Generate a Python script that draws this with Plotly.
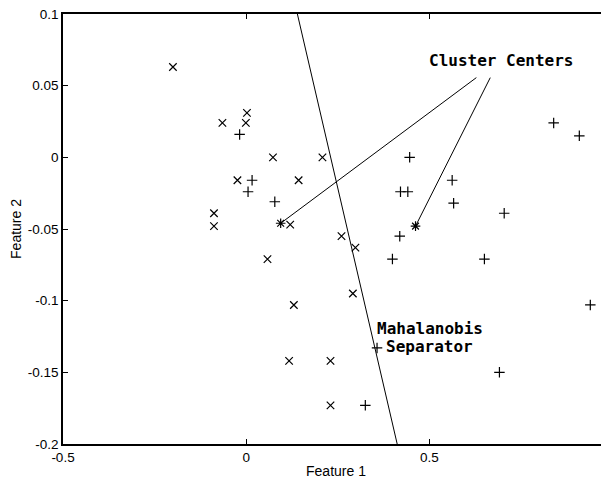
import plotly.graph_objects as go

# Class 1 ("x" markers)
x_cls1 = [-0.200, -0.065, 0.002, -0.001, 0.073, -0.024, 0.143, -0.088, -0.088, 0.120,
          0.208, 0.260, 0.298, 0.058, 0.130, 0.291, 0.117, 0.230, 0.230]
y_cls1 = [0.063, 0.024, 0.031, 0.024, 0.000, -0.016, -0.016, -0.039, -0.048, -0.047,
          0.000, -0.055, -0.063, -0.071, -0.103, -0.095, -0.142, -0.142, -0.173]

# Class 2 ("+" markers)
x_cls2 = [-0.018, 0.016, 0.005, 0.078, 0.446, 0.562, 0.421, 0.441, 0.566, 0.704,
          0.419, 0.399, 0.650, 0.839, 0.909, 0.939, 0.357, 0.691, 0.325]
y_cls2 = [0.016, -0.016, -0.024, -0.031, 0.000, -0.016, -0.024, -0.024, -0.032, -0.039,
          -0.055, -0.071, -0.071, 0.024, 0.015, -0.103, -0.133, -0.150, -0.173]

# Cluster centers
x_centers = [0.094, 0.462]
y_centers = [-0.046, -0.048]

# Mahalanobis separator line endpoints
x_sep = [0.1396, 0.412]
y_sep = [0.1, -0.2]

# Pointer lines from the "Cluster Centers" label
x_ptr_start = [0.628, 0.666]
y_ptr_start = [0.0556, 0.0556]

x_ticks = [-0.5, 0, 0.5]
x_ticklabels = ["-0.5", "0", "0.5"]
y_ticks = [0.1, 0.05, 0, -0.05, -0.1, -0.15, -0.2]
y_ticklabels = ["0.1", "0.05", "0", "-0.05", "-0.1", "-0.15", "-0.2"]

fig = go.Figure()

fig.add_trace(go.Scatter(x=x_sep, y=y_sep, mode="lines",
                         line=dict(color="black", width=1), showlegend=False))
for i in range(len(x_centers)):
    fig.add_trace(go.Scatter(x=[x_ptr_start[i], x_centers[i]], y=[y_ptr_start[i], y_centers[i]],
                             mode="lines", line=dict(color="black", width=1), showlegend=False))

fig.add_trace(go.Scatter(x=x_cls1, y=y_cls1, mode="markers",
                         marker=dict(symbol="x-thin-open", size=7.5, color="black",
                                     line=dict(color="black", width=1.2)),
                         showlegend=False))
fig.add_trace(go.Scatter(x=x_cls2, y=y_cls2, mode="markers",
                         marker=dict(symbol="cross-thin-open", size=7.5, color="black",
                                     line=dict(color="black", width=1.2)),
                         showlegend=False))
fig.add_trace(go.Scatter(x=x_centers, y=y_centers, mode="markers",
                         marker=dict(symbol="asterisk-open", size=8, color="black",
                                     line=dict(color="black", width=1.2)),
                         showlegend=False))
# invisible trace on yaxis2 for the right-side ticks
fig.add_trace(go.Scatter(x=[x_ticks[0]], y=[y_ticks[0]], mode="markers",
                         marker=dict(opacity=0), yaxis="y2", showlegend=False,
                         hoverinfo="skip"))

ann_font = dict(family="DejaVu Sans Mono", size=16, color="black")
fig.add_annotation(x=0.494, y=0.0679, text="<b>Cluster Centers</b>", showarrow=False,
                   xanchor="left", yanchor="middle", font=ann_font)
fig.add_annotation(x=0.351, y=-0.1193, text="<b>Mahalanobis</b>", showarrow=False,
                   xanchor="left", yanchor="middle", font=ann_font)
fig.add_annotation(x=0.377, y=-0.1322, text="<b>Separator</b>", showarrow=False,
                   xanchor="left", yanchor="middle", font=ann_font)

tick_font = dict(family="Liberation Sans", size=13.5, color="black")
title_font = dict(family="Liberation Sans", size=14, color="black")
fig.update_layout(
    width=601, height=475,
    margin=dict(l=55, r=0, t=6, b=39),
    paper_bgcolor="white", plot_bgcolor="white",
    xaxis=dict(range=[-0.5, 0.99], tickvals=x_ticks, ticktext=x_ticklabels,
               ticks="inside", ticklen=5, tickcolor="black", tickwidth=1,
               showline=True, linecolor="black", linewidth=1.5, mirror="ticks",
               showgrid=False, zeroline=False, tickfont=tick_font,
               ticklabeloverflow="allow",
               title=dict(text="Feature 1", font=title_font, standoff=2)),
    yaxis=dict(range=[-0.2, 0.1], tickvals=y_ticks, ticktext=y_ticklabels,
               ticks="inside", ticklen=5, tickcolor="black", tickwidth=1,
               showline=True, linecolor="black", linewidth=1.5, mirror=False,
               showgrid=False, zeroline=False, tickfont=tick_font,
               ticklabeloverflow="allow",
               title=dict(text="Feature 2", font=title_font, standoff=4)),
    yaxis2=dict(range=[-0.2, 0.1], tickvals=y_ticks, overlaying="y", side="right",
                ticks="inside", ticklen=5, tickcolor="black", tickwidth=1,
                showline=False, showgrid=False, zeroline=False, showticklabels=False),
)

fig.write_html("out.html")
